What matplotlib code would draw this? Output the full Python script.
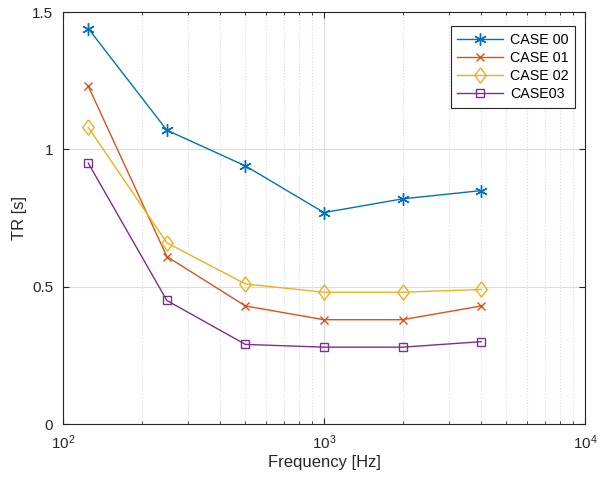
import numpy as np
import matplotlib
matplotlib.use("Agg")
import matplotlib.pyplot as plt
from matplotlib.ticker import LogLocator, NullFormatter

plt.rcParams['font.family'] = ['Liberation Sans', 'DejaVu Sans']

# Datos
frecuencias = [125, 250, 500, 1000, 2000, 4000]
case00 = [1.44, 1.07, 0.94, 0.77, 0.82, 0.85]
case01 = [1.23, 0.61, 0.43, 0.38, 0.38, 0.43]
case02 = [1.08, 0.66, 0.51, 0.48, 0.48, 0.49]
case03 = [0.95, 0.45, 0.29, 0.28, 0.28, 0.30]
nombres = ["CASE 00", "CASE 01", "CASE 02", "CASE03"]

colores = ["#0072BD", "#D95319", "#EDB120", "#7E2F8E"]
rombo = [(0, 1), (0.75, 0), (0, -1), (-0.75, 0), (0, 1)]
marcadores = [(6, 2, 0), "x", rombo, "s"]  # asterisco tipo MATLAB
tamanos = [9, 6, 11, 6]

fig = plt.figure(figsize=(6, 4.83), dpi=100)
ax = fig.add_axes([0.105, 0.122, 0.87, 0.853])

for serie, nombre, c, m, s in zip([case00, case01, case02, case03], nombres, colores, marcadores, tamanos):
    ax.plot(frecuencias, serie, color=c, marker=m, markersize=s, markerfacecolor="none",
            markeredgecolor=c, markeredgewidth=1, linewidth=1, label=nombre)

ax.set_xscale("log")
ax.set_xlim(100, 10000)
ax.set_ylim(0, 1.5)
ax.set_yticks([0, 0.5, 1, 1.5])
ax.set_yticklabels(["0", "0.5", "1", "1.5"])
ax.xaxis.set_minor_locator(LogLocator(base=10, subs=np.arange(2, 10)))
ax.xaxis.set_minor_formatter(NullFormatter())

ax.grid(True, which="major", color="#dcdcdc", linewidth=0.8)
ax.grid(True, which="minor", axis="x", color="#dcdcdc", linestyle=":", linewidth=0.8)
ax.set_axisbelow(True)

ax.tick_params(which="both", direction="in", top=True, right=True, labelsize=11, colors="#262626")
ax.tick_params(which="major", length=4)
ax.tick_params(which="minor", length=2)
ax.tick_params(axis="x", which="major", pad=7)
ax.tick_params(axis="y", which="major", pad=7)
for sp in ax.spines.values():
    sp.set_color("#262626")
    sp.set_linewidth(0.8)

ax.set_xlabel("Frequency [Hz]", fontsize=12, color="#262626", labelpad=2)
ax.set_ylabel("TR [s]", fontsize=12, color="#262626", labelpad=4)

leg = ax.legend(loc="upper right", fontsize=10.3, fancybox=False, edgecolor="#262626",
                framealpha=1, handlelength=3.2, borderpad=0.45, labelspacing=0.3,
                handletextpad=0.5, borderaxespad=0, bbox_to_anchor=(0.981, 0.966))
leg.get_frame().set_linewidth(0.8)

plt.savefig("out.png", dpi=100)
